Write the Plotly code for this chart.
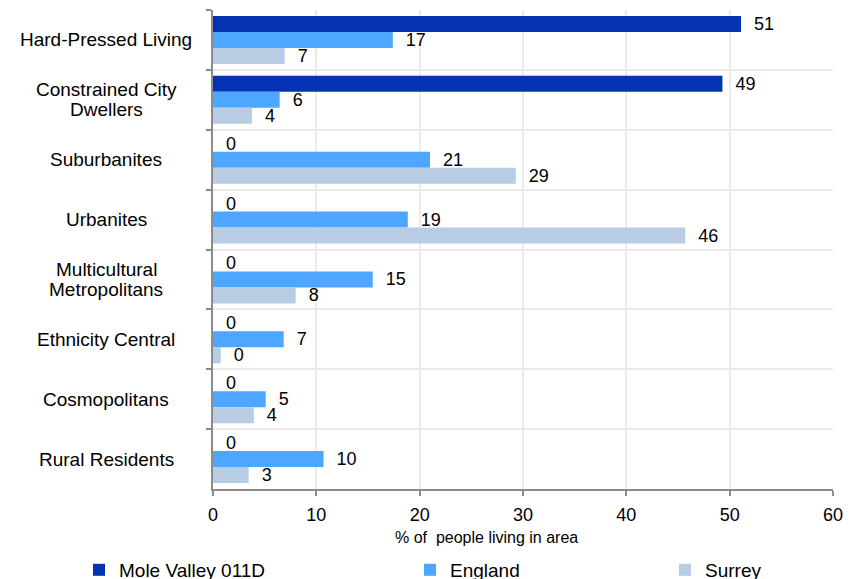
import plotly.graph_objects as go

categories = ["Hard-Pressed Living", "Constrained City<br>Dwellers", "Suburbanites", "Urbanites",
              "Multicultural<br>Metropolitans", "Ethnicity Central", "Cosmopolitans", "Rural Residents"]
series_names = ["Mole Valley 011D", "England", "Surrey"]
mole = [51.1, 49.3, 0, 0, 0, 0, 0, 0]
england = [17.4, 6.45, 21.0, 18.85, 15.46, 6.84, 5.1, 10.7]
surrey = [6.94, 3.77, 29.3, 45.7, 8.0, 0.75, 3.95, 3.45]
mole_labels = ["51", "49", "0", "0", "0", "0", "0", "0"]
england_labels = ["17", "6", "21", "19", "15", "7", "5", "10"]
surrey_labels = ["7", "4", "29", "46", "8", "0", "4", "3"]
colors = ["#0332b3", "#4da6ff", "#b8cce4"]
x_ticks = [0, 10, 20, 30, 40, 50, 60]

FONT = "Liberation Sans, Arial, sans-serif"
fig = go.Figure()
legend_ids = ["legend", "legend2", "legend3"]
for name, vals, labs, col, lg in zip(series_names, [mole, england, surrey],
                                     [mole_labels, england_labels, surrey_labels], colors, legend_ids):
    fig.add_trace(go.Bar(
        y=categories, x=vals, orientation="h", name=name,
        marker=dict(color=col, line=dict(width=0)),
        text=["\u00a0\u00a0" + s for s in labs], textposition="outside",
        textfont=dict(size=18, color="#000000", family=FONT),
        constraintext="none", cliponaxis=False, legend=lg,
    ))

grid = "#ebebeb"
axcol = "#8c8c8c"
plot_w = 852 - 213 - 19
leg_y = -0.169


def lx(px):
    return (px - 213) / plot_w


leg_common = dict(orientation="h", xref="paper", xanchor="left", y=leg_y, yanchor="middle",
                  font=dict(size=19), bgcolor="rgba(0,0,0,0)")
fig.update_layout(
    width=852, height=579,
    margin=dict(l=213, r=19, t=10, b=90, autoexpand=False),
    barmode="group", bargap=0.2, bargroupgap=0,
    plot_bgcolor="white", paper_bgcolor="white",
    font=dict(family=FONT, size=18, color="#000000"),
    xaxis=dict(range=[0, 60], tickvals=x_ticks, ticks="outside", ticklen=5, tickwidth=2,
               tickcolor=axcol, showline=True, linecolor=axcol, linewidth=2,
               showgrid=True, gridcolor=grid, gridwidth=1.5, zeroline=False,
               tickfont=dict(size=18), ticklabelstandoff=3),
    yaxis=dict(type="category", categoryorder="array", categoryarray=categories,
               autorange="reversed", tickson="boundaries", ticks="outside", ticklen=5,
               tickwidth=2, tickcolor=axcol, showline=True, linecolor=axcol, linewidth=2,
               showgrid=True, gridcolor=grid, gridwidth=1.5, showticklabels=False),
    legend=dict(x=lx(79), **leg_common),
    legend2=dict(x=lx(410), **leg_common),
    legend3=dict(x=lx(665), **leg_common),
    showlegend=True,
)

for cat in categories:
    lines = cat.split("<br>")
    n = len(lines)
    for i, line in enumerate(lines):
        fig.add_annotation(text=line, xref="paper", yref="y", x=lx(106), y=cat,
                           yshift=-(i - (n - 1) / 2) * 20,
                           xanchor="center", yanchor="middle", align="center", showarrow=False,
                           font=dict(size=19, color="#000000", family=FONT))

fig.add_annotation(text="% of\u00a0 people living in area", xref="paper", yref="paper",
                   x=lx(486), y=(489 - 537) / 479, xanchor="center", yanchor="middle",
                   showarrow=False, font=dict(size=16, color="#000000", family=FONT))

fig.write_html("out.html", config={"displayModeBar": False},
               post_script="document.body.style.margin='0';document.body.style.padding='0';")
